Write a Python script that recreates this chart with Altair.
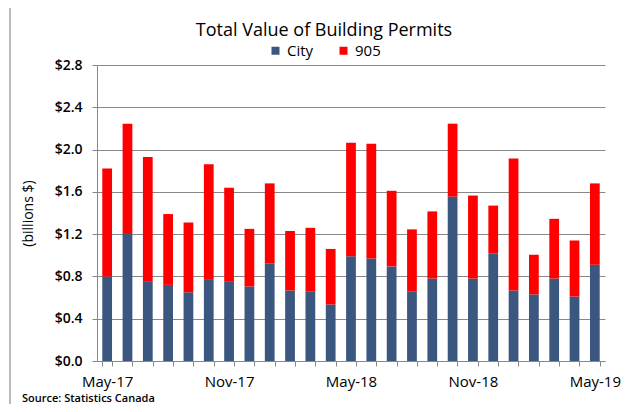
import altair as alt
import pandas as pd

months = ["May-17", "Jun-17", "Jul-17", "Aug-17", "Sep-17", "Oct-17", "Nov-17", "Dec-17",
          "Jan-18", "Feb-18", "Mar-18", "Apr-18", "May-18", "Jun-18", "Jul-18", "Aug-18",
          "Sep-18", "Oct-18", "Nov-18", "Dec-18", "Jan-19", "Feb-19", "Mar-19", "Apr-19", "May-19"]
city = [0.80, 1.21, 0.755, 0.72, 0.65, 0.775, 0.755, 0.705, 0.925, 0.667, 0.66, 0.535, 0.99,
        0.97, 0.895, 0.66, 0.78, 1.555, 0.78, 1.02, 0.667, 0.63, 0.78, 0.61, 0.91]
total = [1.82, 2.245, 1.93, 1.39, 1.31, 1.86, 1.64, 1.25, 1.68, 1.23, 1.26, 1.06, 2.065,
         2.055, 1.61, 1.245, 1.415, 2.245, 1.565, 1.47, 1.915, 1.005, 1.345, 1.14, 1.68]
gta905 = [round(t - c, 3) for t, c in zip(total, city)]
shown_labels = ["May-17", "Nov-17", "May-18", "Nov-18", "May-19"]
y_ticks = [0.0, 0.4, 0.8, 1.2, 1.6, 2.0, 2.4, 2.8]
title_text = "Total Value of Building Permits"
source_text = "Source: Statistics Canada"

rows = []
for m, c, g in zip(months, city, gta905):
    rows.append({"month": m, "series": "City", "value": c, "ord": 0})
    rows.append({"month": m, "series": "905", "value": g, "ord": 1})
df = pd.DataFrame(rows)

FONT = "Open Sans"

bars = alt.Chart(df).mark_bar().encode(
    x=alt.X("month:N", sort=months,
            scale=alt.Scale(paddingInner=0.52, paddingOuter=0.26),
            axis=alt.Axis(title=None, labelAngle=0, tickBand="extent", tickSize=5,
                          labelExpr="indexof(%s, datum.label) >= 0 ? datum.label : ''" % str(shown_labels),
                          labelFontSize=15, labelPadding=8, labelColor="#000",
                          domainColor="#888", tickColor="#888", labelFont=FONT)),
    y=alt.Y("value:Q", stack="zero",
            scale=alt.Scale(domain=[0, 2.8], nice=False),
            axis=alt.Axis(values=y_ticks, labelExpr="'$' + format(datum.value, '.1f')",
                          title="(billions $)", titleFontSize=14, titleFontWeight="normal",
                          titleX=-69, titleY=148, titleAlign="center", titleBaseline="middle",
                          labelFontSize=14, labelColor="#000", labelPadding=10, tickSize=5,
                          domainColor="#888", tickColor="#888", gridColor="#888",
                          labelFont=FONT, titleFont=FONT, labelFontWeight=600)),
    color=alt.Color("series:N", sort=["City", "905"],
                    scale=alt.Scale(domain=["City", "905"], range=["#3B567F", "#FF0000"]),
                    legend=alt.Legend(title=None, orient="none", legendX=171, legendY=-22,
                                      direction="horizontal", symbolType="square",
                                      symbolSize=64, symbolStrokeWidth=0, labelFontSize=15,
                                      labelFont=FONT, columnPadding=22, labelColor="#000")),
    order=alt.Order("ord:Q"),
)

title = alt.Chart(pd.DataFrame({"t": [title_text]})).mark_text(
    align="center", baseline="alphabetic", fontSize=18, font=FONT, color="#000"
).encode(x=alt.value(227), y=alt.value(-29), text="t:N")

source = alt.Chart(pd.DataFrame({"t": [source_text]})).mark_text(
    align="left", baseline="alphabetic", fontSize=11, fontWeight=600, font=FONT, color="#000"
).encode(x=alt.value(-75), y=alt.value(337), text="t:N")

frame = alt.Chart(pd.DataFrame({"a": [0]})).mark_rule(color="#bbb", strokeWidth=2).encode(
    x=alt.value(-87), y=alt.value(-57), y2=alt.value(339)
)

chart = alt.layer(bars, title, source, frame).properties(
    width=508, height=296,
    autosize=alt.AutoSizeParams(type="none"),
    padding={"left": 89, "top": 57, "right": 19, "bottom": 43},
).configure_view(stroke=None)

chart.save("out.html", embed_options={"renderer": "svg", "actions": False})
